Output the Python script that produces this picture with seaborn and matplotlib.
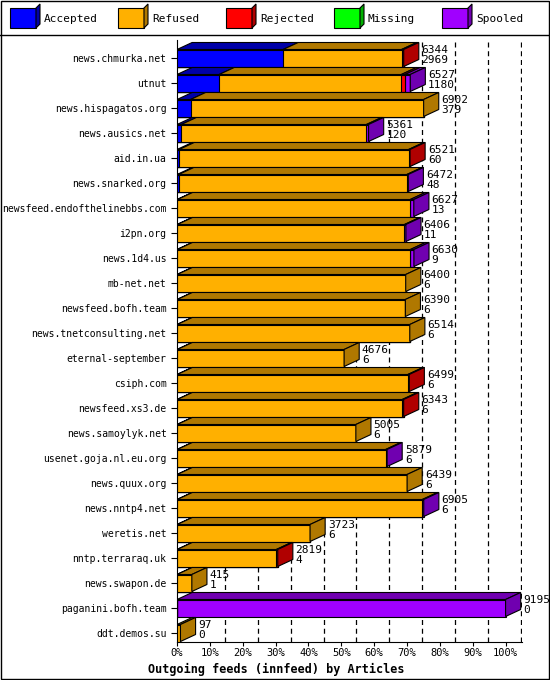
import numpy as np
import pandas as pd
import matplotlib
matplotlib.use("Agg")
import matplotlib.pyplot as plt
import matplotlib.patches as mpatches
import seaborn as sns

hosts = ["news.chmurka.net", "utnut", "news.hispagatos.org", "news.ausics.net", "aid.in.ua",
         "news.snarked.org", "newsfeed.endofthelinebbs.com", "i2pn.org", "news.1d4.us", "mb-net.net",
         "newsfeed.bofh.team", "news.tnetconsulting.net", "eternal-september", "csiph.com",
         "newsfeed.xs3.de", "news.samoylyk.net", "usenet.goja.nl.eu.org", "news.quux.org",
         "news.nntp4.net", "weretis.net", "nntp.terraraq.uk", "news.swapon.de",
         "paganini.bofh.team", "ddt.demos.su"]
totals = [6344, 6527, 6902, 5361, 6521, 6472, 6627, 6406, 6630, 6400, 6390, 6514, 4676, 6499,
          6343, 5005, 5879, 6439, 6905, 3723, 2819, 415, 9195, 97]
accepted = [2969, 1180, 379, 120, 60, 48, 13, 11, 9, 6, 6, 6, 6, 6, 6, 6, 6, 6, 6, 6, 4, 1, 0, 0]
rejected = [60, 100, 0, 0, 40, 0, 0, 0, 0, 0, 0, 0, 0, 40, 40, 0, 0, 0, 0, 0, 40, 0, 0, 0]
missing = [0] * 24
spooled = [0, 150, 0, 60, 0, 40, 100, 40, 100, 0, 0, 0, 0, 0, 0, 0, 40, 0, 40, 0, 0, 0, 9195, 0]

names = ["Accepted", "Refused", "Rejected", "Missing", "Spooled"]
front = ["#0000ff", "#ffb000", "#ff0000", "#00ff00", "#a000ff"]
dark = ["#0000a8", "#b07800", "#b00000", "#00b000", "#7000b0"]

df = pd.DataFrame({"host": hosts, "total": totals, "Accepted": accepted, "Rejected": rejected,
                   "Missing": missing, "Spooled": spooled})
df["Refused"] = df["total"] - df[["Accepted", "Rejected", "Missing", "Spooled"]].sum(axis=1)
scale = 100.0 / max(totals)
cum = np.cumsum(df[names].to_numpy() * scale, axis=1)

plt.rcParams["font.family"] = ["DejaVu Sans Mono"]
fig = plt.figure(figsize=(5.5, 6.8), dpi=100)
ax = fig.add_axes([177 / 550, 38 / 680, 345 / 550, 602 / 680])

H = 0.68
for k in range(4, -1, -1):
    sns.barplot(x=cum[:, k], y=hosts, orient="h", color=front[k], width=H, saturation=1,
                edgecolor="black", linewidth=0.8, ax=ax, zorder=3)

dx, dy = 4.6, 0.28
for i in range(len(hosts)):
    yt = i - H / 2
    x0 = 0
    last = 1
    for k in range(5):
        x1 = cum[i, k]
        if x1 - x0 > 0:
            ax.add_patch(mpatches.Polygon([(x0, yt), (x1, yt), (x1 + dx, yt - dy), (x0 + dx, yt - dy)],
                                          closed=True, fc=dark[k], ec="black", lw=0.8, zorder=3))
            last = k
        x0 = x1
    xe = cum[i, -1]
    ax.add_patch(mpatches.Polygon([(xe, yt), (xe + dx, yt - dy), (xe + dx, yt - dy + H), (xe, yt + H)],
                                  closed=True, fc=dark[last], ec="black", lw=0.8, zorder=3))
    ax.text(xe + dx + 0.8, i - 0.12, str(totals[i]), fontsize=8, va="bottom", zorder=4)
    ax.text(xe + dx + 0.8, i - 0.12, str(accepted[i]), fontsize=8, va="top", zorder=4)

for p in range(10, 101, 10):
    ax.axvline(p + dx, color="black", ls=(0, (4, 3)), lw=0.9, zorder=1)
ybot = 23.36
ax.plot([0, dx], [ybot, ybot - dy], color="black", lw=0.8)

ax.set_xlim(0, 105)
ax.set_ylim(ybot, -0.72)
ax.set_xticks(range(0, 101, 10))
ax.set_xticklabels([f"{p}%" for p in range(0, 101, 10)], fontsize=7.5)
ax.tick_params(axis="y", length=4, labelsize=7)
ax.tick_params(axis="x", length=3, direction="out", pad=1)
for s in ["top", "right"]:
    ax.spines[s].set_visible(False)
ax.set_xlabel("")
ax.set_ylabel("")
fig.text(148 / 550, 4 / 680, "Outgoing feeds (innfeed) by Articles", fontsize=8.5,
         fontweight="bold", va="bottom")

# legend strip
for j, n in enumerate(names):
    x = (10 + 108 * j) / 550
    fig.patches.append(mpatches.Rectangle((x, 1 - 28 / 680), 26 / 550, 20 / 680, transform=fig.transFigure,
                                          fc=front[j], ec="black", lw=0.8))
    fig.patches.append(mpatches.Polygon([(x + 26 / 550, 1 - 28 / 680), (x + 30 / 550, 1 - 24 / 680),
                                         (x + 30 / 550, 1 - 4 / 680), (x + 26 / 550, 1 - 8 / 680)],
                                        closed=True, transform=fig.transFigure, fc=dark[j], ec="black", lw=0.8))
    fig.text(x + 34 / 550, 1 - 19 / 680, n, fontsize=8, va="center")
fig.add_artist(plt.Line2D([0, 1], [1 - 35 / 680, 1 - 35 / 680], color="black", lw=1))
fig.patches.append(mpatches.Rectangle((0.001, 0.001), 0.997, 0.997, transform=fig.transFigure,
                                      fill=False, ec="black", lw=1))

fig.savefig("out.png", dpi=100)
